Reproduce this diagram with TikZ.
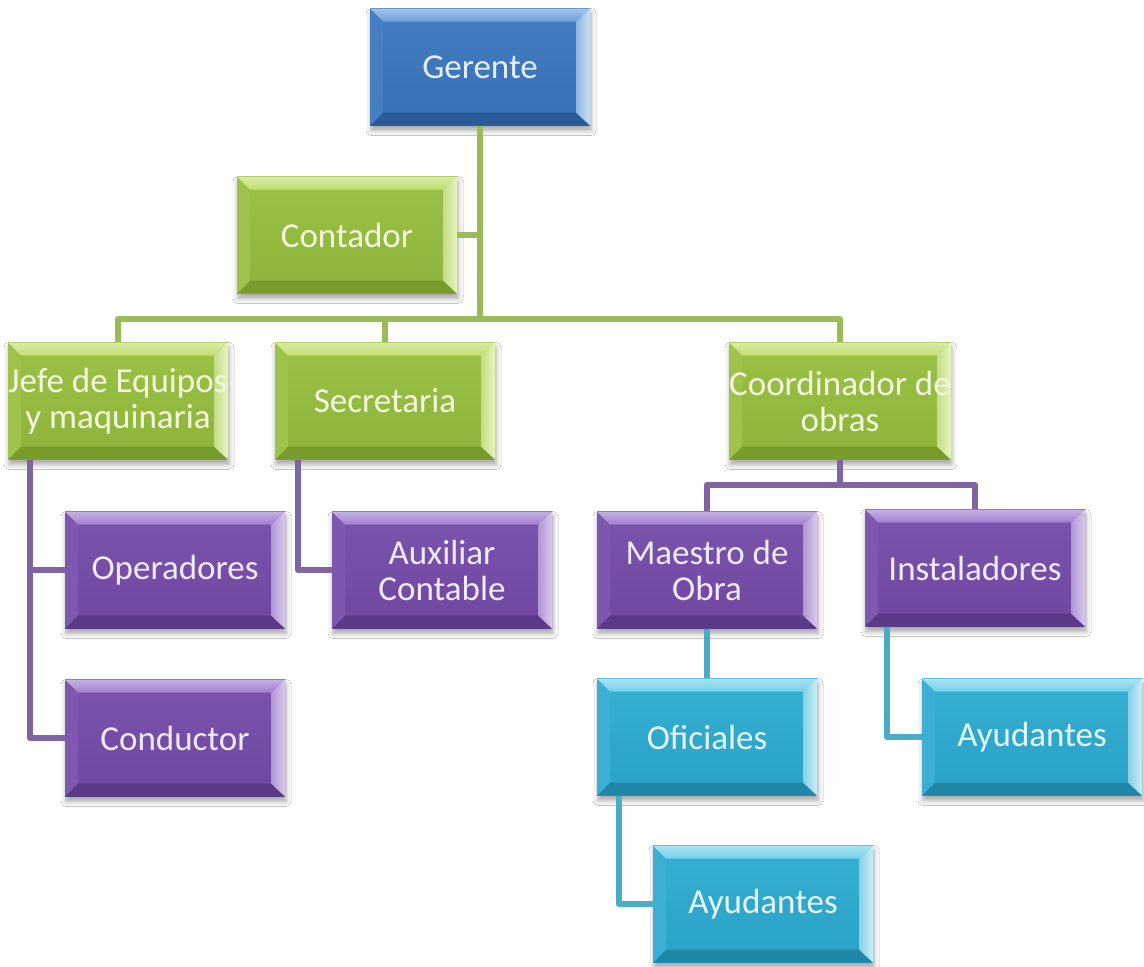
\documentclass[tikz,border=0pt]{standalone}
\usepackage{fontspec}
\newfontfamily\boxfont{Carlito}
\usetikzlibrary{shadows.blur}

% box palettes: face, face highlight, bevels (top, bottom, left, right), text
\definecolor{bface}{HTML}{3870B6}\definecolor{bup}{HTML}{447DC2}
\definecolor{btop}{HTML}{6A9FDC}\definecolor{bbot}{HTML}{2B5A98}
\definecolor{blft}{HTML}{467EC2}\definecolor{brgt}{HTML}{C9E2F7}
\definecolor{btxt}{HTML}{E3EEF9}
\definecolor{gface}{HTML}{8DB43A}\definecolor{gup}{HTML}{9BC146}
\definecolor{gtop}{HTML}{C0DF6E}\definecolor{gbot}{HTML}{789C2C}
\definecolor{glft}{HTML}{9EC24A}\definecolor{grgt}{HTML}{E8F6BC}
\definecolor{gtxt}{HTML}{F3F9E1}
\definecolor{pface}{HTML}{6F47A1}\definecolor{pup}{HTML}{7A54AD}
\definecolor{ptop}{HTML}{A07DD0}\definecolor{pbot}{HTML}{5A3986}
\definecolor{plft}{HTML}{7E58B0}\definecolor{prgt}{HTML}{DBC9F1}
\definecolor{ptxt}{HTML}{F1EAF8}
\definecolor{cface}{HTML}{2AA1C6}\definecolor{cup}{HTML}{36AFD3}
\definecolor{ctop}{HTML}{72D1EB}\definecolor{cbot}{HTML}{2087A9}
\definecolor{clft}{HTML}{3BB0D4}\definecolor{crgt}{HTML}{C6EFF9}
\definecolor{ctxt}{HTML}{E6F7FC}
% connector colours
\definecolor{gline}{HTML}{9BBB59}
\definecolor{pline}{HTML}{8064A2}
\definecolor{cline}{HTML}{4BACC6}

\tikzset{
  bevbox/.style={
    minimum width=220pt, minimum height=117pt, inner sep=0pt, align=center,
    text=#1txt, font={\boxfont\fontsize{35}{36}\selectfont},
    blur shadow={shadow xshift=1pt, shadow yshift=-5pt,
                 shadow blur radius=5pt, shadow opacity=35},
    path picture={
      \coordinate (q1) at (path picture bounding box.south west);
      \coordinate (q2) at (path picture bounding box.south east);
      \coordinate (q3) at (path picture bounding box.north east);
      \coordinate (q4) at (path picture bounding box.north west);
      \coordinate (p1) at ([shift={(13pt,13pt)}]q1);
      \coordinate (p2) at ([shift={(-14pt,13pt)}]q2);
      \coordinate (p3) at ([shift={(-14pt,-13pt)}]q3);
      \coordinate (p4) at ([shift={(13pt,-13pt)}]q4);
      \shade[top color=#1up, bottom color=#1face] (q1) rectangle (q3);
      \fill[#1bot] (q1) -- (q2) -- (p2) -- (p1) -- cycle;
      \fill[#1lft] (q1) -- (q4) -- (p4) -- (p1) -- cycle;
      \shade[top color=#1top!60!white, bottom color=#1top]
        (q4) -- (q3) -- (p3) -- (p4) -- cycle;
      \shade[left color=#1face!40!#1rgt, right color=#1rgt]
        (q2) -- (q3) -- (p3) -- (p2) -- cycle;
    }
  },
  link/.style={line width=6pt, line join=round, draw=#1}
}

\begin{document}
\begin{tikzpicture}[x=1pt, y=-1pt]
  \useasboundingbox[fill=white] (0,0) rectangle (1144,967);

  % boxes
  \node[bevbox=b] (ger)   at (480,67)  {Gerente};
  \node[bevbox=g] (cont)  at (347,235) {Contador};
  \node[bevbox=g] (jefe)  at (118,401) {Jefe de Equipos\\y maquinaria};
  \node[bevbox=g] (secr)  at (385,401) {Secretaria};
  \node[bevbox=g] (coord) at (840,401) {Coordinador de\\obras};
  \node[bevbox=p] (oper)  at (175,570) {Operadores};
  \node[bevbox=p] (aux)   at (442,570) {Auxiliar\\Contable};
  \node[bevbox=p] (maes)  at (707,570) {Maestro de\\Obra};
  \node[bevbox=p] (inst)  at (975,568) {Instaladores};
  \node[bevbox=p] (cond)  at (175,738) {Conductor};
  \node[bevbox=c] (ofic)  at (707,737) {Oficiales};
  \node[bevbox=c] (ayuA)  at (1032,737) {Ayudantes};
  \node[bevbox=c] (ayuB)  at (763,904) {Ayudantes};

  % bus rails
  \coordinate (rail) at (480,319);
  \coordinate (obrail) at (840,485);

  % connectors
  \draw[link=gline] (ger.south) -- (ger.south |- rail);
  \draw[link=gline] (jefe.north) |- (rail) -| (coord.north);
  \draw[link=gline] (secr.north) -- (secr.north |- rail);
  \draw[link=gline] (cont.east) -- (cont.east -| ger.south);
  \draw[link=pline] ([xshift=-88pt]jefe.south) |- (oper.west);
  \draw[link=pline] ([xshift=-88pt]jefe.south) |- (cond.west);
  \draw[link=pline] ([xshift=-87pt]secr.south) |- (aux.west);
  \draw[link=pline] (coord.south) -- (coord.south |- obrail);
  \draw[link=pline] (maes.north) |- (obrail) -| (inst.north);
  \draw[link=cline] (maes.south) -- (ofic.north);
  \draw[link=cline] ([xshift=-88pt]ofic.south) |- (ayuB.west);
  \draw[link=cline] ([xshift=-88pt]inst.south) |- (ayuA.west);
\end{tikzpicture}
\end{document}
